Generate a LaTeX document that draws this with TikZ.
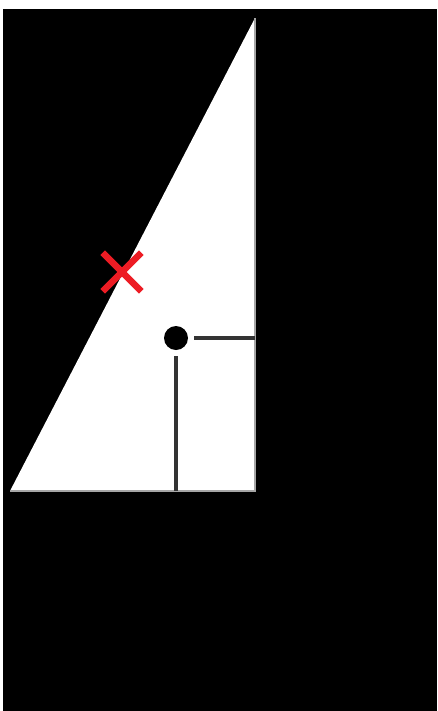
\documentclass[tikz,border=0pt]{standalone}
\usepackage{tikz}
\usetikzlibrary{shapes.misc}

\begin{document}
\begin{tikzpicture}[x=0.02cm, y=-0.02cm,
    dotpt/.style={circle, fill=black, inner sep=0pt, minimum size=24*0.02cm},
    marker/.style={cross out, draw={rgb,255:red,237;green,28;blue,36}, line width=3.8pt,
                   inner sep=0pt, minimum size=32*0.02cm},
    guide/.style={black!80, line width=1.9pt}]
  % --- frame ---
  \fill[white] (0,0) rectangle (437,711);
  \useasboundingbox (0,0) rectangle (437,711);
  \fill[black] (3,9) rectangle (437,711);
  % --- the triangle ---
  \fill[white] (10,491) -- (255,18) -- (255,491) -- cycle;
  \draw[gray!70, line width=0.8pt] (255,18) -- (255,491) -- (10,491);
  \coordinate (right) at (255,338);
  \coordinate (bottom) at (176,491);
  % --- point and marker ---
  \node[dotpt] (pt) at (176,338) {};
  \node[marker] (mark) at (122,272) {};
  \draw[guide] ([xshift=6*0.02cm]pt.east) -- (right);
  \draw[guide] ([yshift=-6*0.02cm]pt.south) -- (bottom);
\end{tikzpicture}
\end{document}
